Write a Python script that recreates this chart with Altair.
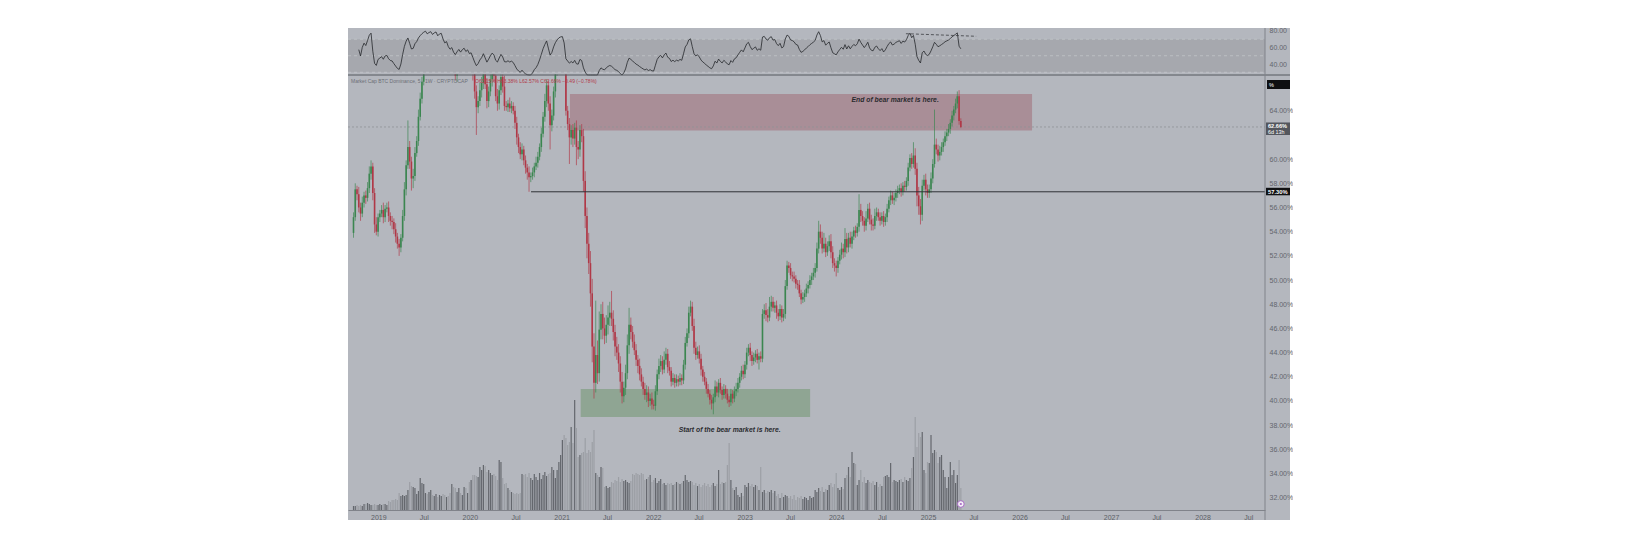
import altair as alt
import pandas as pd

FONT = "Liberation Sans"

# ---------------- data (weekly BTC dominance, %) ----------------
first_open = 53.9
c2018 = [55.2, 57.5, 57.1, 56.0, 55.5, 56.4, 57.0, 56.8, 57.6, 58.8, 59.4, 57.2, 54.6, 54.0, 55.2]
c2019 = [55.5, 55.8, 55.2, 55.9, 56.0, 55.3, 54.9, 54.8, 54.2, 53.6, 53.0, 52.7,
         53.5, 55.3, 57.5, 59.5, 61.0, 59.8, 58.4, 58.6, 60.5, 61.5, 63.5, 65.0, 66.4,
         67.6, 68.5, 67.9, 68.9, 69.6, 69.0, 70.1, 70.8, 70.0, 71.2, 71.6, 70.4, 69.5, 70.1,
         68.9, 68.2, 68.8, 67.6, 66.9, 67.8, 68.6, 67.9, 68.7, 69.2, 68.4, 68.9, 68.0]
c2020 = [68.2, 67.0, 65.6, 64.3, 64.8, 65.7, 66.3, 67.4, 66.2, 64.8,
         65.6, 66.6, 67.4, 66.9, 65.2, 64.6, 65.7, 66.8, 66.0, 64.4,
         64.3, 64.6, 64.2, 64.4, 64.0, 63.0, 61.8, 61.0, 60.4, 60.8,
         59.9, 59.3, 58.9, 58.5, 58.6, 58.9, 59.4, 59.7, 60.2, 61.0,
         62.1, 63.5, 64.8, 66.1, 64.6, 62.8, 63.6, 65.6, 67.5, 69.0,
         70.2, 70.8]
c2021 = [71.0, 69.5, 64.0, 62.9, 61.8, 62.4, 61.7, 62.6, 61.0, 60.8,
         62.4, 61.9, 58.2, 55.3, 53.0, 51.4, 48.9, 44.5, 41.5, 43.8,
         42.3, 45.9, 47.2, 46.0, 45.4, 46.3, 46.9, 47.3, 46.8, 45.7,
         44.5, 44.0, 43.1, 41.6, 40.4, 41.1, 42.3, 44.6, 46.3, 45.7,
         44.9, 44.2, 43.4, 42.9, 42.2, 41.6, 41.0, 40.5, 40.7, 40.0,
         40.2, 39.7]
c2022 = [39.6, 40.8, 42.2, 42.9, 43.3, 42.6, 43.4, 43.9, 42.8, 42.5,
         41.6, 41.9, 41.5, 41.8, 41.6, 41.9, 41.7, 43.0, 44.8, 45.6,
         47.3, 47.8, 46.2, 44.4, 43.8, 44.1, 43.5, 42.6, 42.0, 41.6,
         41.0, 40.6, 40.1, 39.8, 40.3, 41.2, 40.7, 41.5, 40.9, 40.5,
         41.0, 40.6, 40.1, 39.9, 40.6, 40.2, 40.8, 41.0, 41.5, 42.0,
         42.5, 42.2]
c2023 = [43.0, 44.0, 44.4, 43.8, 43.3, 43.6, 43.9, 43.4, 43.7, 43.5,
         47.2, 47.5, 47.1, 46.9, 47.8, 48.2, 47.7, 47.9, 47.3, 47.0,
         47.6, 46.9, 47.2, 49.5, 51.2, 51.0, 50.4, 50.3, 50.1, 49.7,
         49.6, 48.9, 48.4, 48.6, 48.9, 49.3, 49.6, 50.0, 50.3, 50.6,
         51.0, 52.6, 54.0, 53.5, 52.6, 53.0, 52.3, 52.8, 53.2, 52.3,
         51.4, 51.2]
c2024 = [51.0, 51.6, 52.1, 52.6, 52.3, 53.4, 52.7, 53.5, 53.0, 53.6,
         54.1, 53.9, 54.4, 55.8, 55.3, 54.9, 54.5, 55.1, 55.9, 55.0,
         54.6, 54.5, 55.3, 55.6, 55.2, 54.9, 55.3, 54.8, 55.2, 55.9,
         56.6, 57.0, 56.6, 56.8, 57.2, 57.4, 57.6, 57.3, 57.8, 57.7,
         58.2, 59.3, 60.1, 59.6, 60.3, 59.2, 57.0, 56.1, 55.4, 57.8,
         58.3, 57.5, 57.2]
c2025 = [57.5, 58.4, 59.6, 61.2, 60.8, 60.3, 60.6, 61.0, 61.4, 61.9,
         62.2, 62.5, 63.0, 63.6, 64.1, 64.6, 65.2, 63.15, 62.66]

# upper / lower wick lengths (percentage points)
wu2018 = [0.4, 0.5, 0.3, 0.6, 0.4, 0.5, 0.3, 0.4, 0.5, 0.6, 0.5, 0.3, 0.4, 0.6, 0.3]
wd2018 = [0.4, 0.3, 0.5, 0.4, 0.6, 0.3, 0.4, 0.5, 0.3, 0.4, 0.5, 0.6, 0.7, 0.3, 0.4]
wu2019 = [0.3, 0.4, 0.6, 0.3, 0.4, 0.5, 0.3, 0.4, 0.3, 0.5, 0.3, 0.4,
          0.3, 0.5, 0.6, 0.4, 2.2, 0.5, 0.4, 0.6, 0.5, 0.4, 0.6, 0.5, 0.4, 0.5,
          0.5, 0.6, 0.4, 0.5, 0.6, 0.4, 0.5, 0.6, 0.4, 0.5, 0.6, 0.4, 0.5, 0.4, 0.6, 0.5,
          0.4, 0.5, 0.6, 0.4, 0.5, 0.4, 0.6, 0.5, 0.4, 0.5]
wd2019 = [0.4, 0.3, 0.5, 0.4, 0.3, 0.5, 0.4, 0.6, 0.4, 0.5, 0.4, 0.7,
          0.4, 0.3, 0.4, 0.5, 0.3, 0.6, 1.0, 0.8, 0.4, 0.3, 0.4, 0.3, 0.4, 0.3,
          0.5, 0.4, 0.6, 0.5, 0.4, 0.5, 0.6, 0.4, 0.5, 0.6, 0.4, 0.7, 0.5, 0.6, 0.4, 0.5,
          0.6, 0.4, 0.5, 0.4, 0.6, 0.5, 0.4, 0.5, 0.6, 0.5]
wu2020 = [0.5, 0.4, 0.6, 0.5, 0.4, 0.6, 0.5, 0.4, 0.6, 0.5,
          0.4, 0.5, 0.6, 0.4, 0.5, 0.6, 0.4, 0.5, 0.6, 0.9,
          0.4, 0.3, 0.5, 0.4, 0.3, 0.4, 0.5, 0.3, 0.4, 0.5,
          0.3, 0.4, 0.3, 0.5, 0.3, 0.4, 0.3, 0.5, 0.4, 0.3,
          0.5, 0.4, 0.6, 0.5, 0.4, 0.6, 0.5, 0.4, 0.6, 0.5,
          0.4, 0.6]
wd2020 = [0.4, 0.5, 0.6, 2.3, 0.5, 0.4, 0.6, 0.5, 0.4, 0.6,
          0.5, 0.4, 0.6, 0.5, 0.4, 0.6, 0.5, 0.4, 0.5, 0.4,
          0.3, 0.4, 0.3, 0.4, 0.3, 0.5, 0.6, 0.5, 0.4, 0.5,
          0.4, 0.5, 0.6, 1.2, 0.4, 0.3, 0.4, 0.3, 0.4, 0.3,
          0.4, 0.3, 0.4, 0.5, 0.6, 2.0, 0.5, 0.4, 0.5, 0.6,
          0.5, 0.6]
wu2021 = [0.6, 0.5, 0.5, 0.4, 0.5, 0.4, 0.5, 0.4, 0.6, 0.5,
          0.4, 0.5, 0.6, 0.8, 0.7, 0.9, 1.0, 1.2, 1.1, 4.5,
          1.2, 1.5, 0.8, 1.0, 0.9, 0.8, 1.0, 0.9, 1.8, 0.7,
          0.6, 0.8, 0.7, 0.6, 0.8, 0.5, 0.7, 0.9, 1.4, 0.6,
          0.5, 0.6, 0.5, 0.4, 0.6, 0.5, 0.4, 0.5, 0.6, 0.5,
          0.4, 0.5]
wd2021 = [0.5, 0.6, 0.4, 0.5, 2.2, 0.6, 0.7, 0.5, 1.5, 0.8,
          0.6, 0.5, 0.9, 1.0, 1.2, 0.9, 1.1, 1.3, 1.3, 0.8,
          0.9, 0.7, 0.8, 0.9, 0.7, 0.6, 0.8, 0.7, 0.6, 0.7,
          0.8, 0.6, 0.7, 0.9, 0.6, 0.5, 0.6, 0.5, 0.7, 0.6,
          0.5, 0.4, 0.5, 0.6, 0.5, 0.4, 0.5, 0.4, 0.6, 0.5,
          0.4, 0.4]
wu2022 = [0.4, 0.5, 0.4, 0.6, 0.5, 0.4, 0.7, 0.5, 0.4, 0.5,
          0.3, 0.4, 0.3, 0.4, 0.3, 0.4, 0.3, 0.4, 0.5, 0.4,
          0.5, 0.5, 0.4, 0.6, 0.5, 0.4, 0.5, 0.4, 0.3, 0.4,
          0.3, 0.4, 0.3, 0.4, 0.3, 0.5, 0.4, 0.3, 0.4, 0.3,
          0.4, 0.3, 0.4, 0.3, 0.4, 0.3, 0.4, 0.5, 0.4, 0.3,
          0.4, 0.5]
wd2022 = [0.3, 0.4, 0.3, 0.4, 0.5, 0.4, 0.3, 0.4, 0.5, 0.4,
          0.4, 0.3, 0.4, 0.3, 0.4, 0.3, 0.4, 0.3, 0.4, 0.3,
          0.4, 0.3, 0.4, 0.5, 0.4, 0.3, 0.4, 0.5, 0.4, 0.3,
          0.4, 0.3, 0.4, 0.5, 0.9, 0.4, 0.3, 0.4, 0.3, 0.4,
          0.3, 0.4, 0.3, 0.4, 0.3, 0.4, 0.3, 0.4, 0.3, 0.4,
          0.3, 0.4]
wu2023 = [0.3, 0.4, 0.3, 0.4, 0.3, 0.4, 0.3, 0.4, 0.3, 0.4,
          0.4, 0.5, 0.6, 0.5, 0.8, 0.5, 0.4, 0.3, 0.4, 0.3,
          0.4, 0.3, 0.4, 0.5, 0.4, 0.3, 0.4, 0.3, 0.4, 0.3,
          0.3, 0.4, 0.3, 0.4, 0.3, 0.4, 0.3, 0.4, 0.3, 0.4,
          0.4, 0.5, 0.9, 0.6, 0.5, 0.9, 0.5, 0.4, 0.5, 0.6,
          0.5, 0.4]
wd2023 = [0.3, 0.4, 0.3, 0.5, 0.4, 0.3, 0.4, 0.3, 0.8, 0.3,
          0.3, 0.4, 0.5, 0.4, 0.3, 0.4, 0.3, 0.4, 0.5, 0.4,
          0.3, 0.4, 0.3, 0.4, 0.3, 0.4, 0.3, 0.4, 0.3, 0.4,
          0.4, 0.3, 0.4, 0.3, 0.4, 0.3, 0.4, 0.3, 0.4, 0.3,
          0.4, 0.3, 0.4, 0.5, 0.4, 0.3, 0.4, 0.3, 0.4, 0.5,
          0.4, 0.5]
wu2024 = [0.4, 0.3, 0.4, 0.5, 0.4, 0.9, 0.5, 0.4, 0.5, 0.4,
          0.3, 0.4, 0.3, 1.3, 0.5, 0.4, 0.3, 0.6, 0.4, 0.5,
          0.4, 0.5, 0.6, 0.4, 0.3, 0.4, 0.3, 0.4, 0.3, 0.4,
          0.3, 0.4, 0.3, 0.4, 0.3, 0.4, 0.3, 0.4, 0.3, 0.4,
          0.3, 0.4, 0.3, 0.4, 1.1, 0.6, 0.5, 0.7, 0.6, 0.5,
          0.4, 0.5, 0.4]
wd2024 = [0.7, 0.4, 0.3, 0.4, 0.5, 0.4, 0.5, 0.4, 0.3, 0.4,
          0.3, 0.4, 0.3, 0.4, 0.5, 0.4, 0.5, 0.4, 0.3, 0.4,
          0.5, 0.4, 0.3, 0.4, 0.3, 0.4, 0.3, 0.4, 0.3, 0.4,
          0.3, 0.4, 0.3, 0.4, 0.3, 0.4, 0.3, 0.4, 0.3, 0.4,
          0.3, 0.4, 0.3, 0.4, 0.3, 0.5, 0.9, 0.7, 0.8, 0.5,
          0.4, 0.5, 0.4]
wu2025 = [0.4, 0.5, 0.4, 2.9, 0.5, 0.4, 0.5, 0.4, 0.3, 0.4, 0.3, 0.4, 0.3, 0.4, 0.3, 0.4, 0.4, 0.5, 0.23]
wd2025 = [0.4, 0.3, 0.4, 0.3, 0.4, 0.5, 0.4, 0.3, 0.4, 0.3, 0.4, 0.3, 0.4, 0.3, 0.4, 0.3, 0.4, 0.3, 0.09]

# volume (relative units)
v2018 = [4, 4, 5, 4, 5, 4, 6, 6, 7, 6, 5, 5, 6, 5, 5]
v2019 = [6, 5, 6, 6, 5, 9, 8, 10, 10, 11, 10, 17, 14, 15, 14, 15, 20, 28, 24, 23, 22, 16,
         19, 32, 27, 26, 17, 16, 18, 20, 15, 14, 16, 13, 15, 14, 16, 15, 13, 14, 17,
         26, 23, 22, 18, 22, 17, 15, 23, 22, 17, 28]
v2020 = [30, 35, 35, 34, 33, 43, 40, 45, 44, 38, 40, 37, 35, 36, 34, 30, 50, 48, 32, 26,
         27, 22, 20, 18, 17, 16, 17, 16, 17, 36, 35, 36, 33, 37, 32, 30, 36,
         33, 30, 37, 31, 35, 38, 34, 36, 37, 43, 40, 32, 40, 48, 55]
v2021 = [70, 75, 72, 65, 68, 83, 67, 110, 82, 53, 55, 57, 58, 72, 57, 60, 58, 68, 80,
         37, 35, 33, 43, 42, 23, 24, 22, 23, 28, 27, 30, 29, 33, 28, 31, 29, 30, 28, 27, 29,
         36, 35, 37, 36, 35, 37, 36, 30, 31, 33, 35, 28]
v2022 = [30, 32, 27, 29, 31, 26, 27, 25, 27, 26, 27, 25, 26, 28, 27, 26, 27, 29, 35,
         30, 28, 29, 28, 25, 27, 24, 26, 23, 25, 27, 24, 26, 23, 25, 27, 24, 26,
         40, 26, 28, 27, 28, 45, 67, 30, 22, 20, 23, 15, 13, 17, 14]
v2023 = [25, 23, 27, 24, 26, 23, 25, 24, 20, 43, 18, 20, 17, 19, 18, 20, 17, 19,
         14, 16, 12, 17, 13, 15, 14, 12, 14, 11, 15, 10, 13, 12, 14, 11, 13, 12, 10, 14, 12, 13,
         20, 18, 22, 19, 23, 18, 21, 20, 25, 27, 23, 26]
v2024 = [37, 22, 20, 23, 21, 32, 35, 43, 33, 58, 47, 46, 25, 30, 40, 28, 33, 27,
         30, 28, 27, 29, 25, 28, 23, 26, 24, 33, 34, 35, 33, 47, 28, 30, 29, 28, 30,
         31, 28, 33, 30, 29, 32, 42, 53, 93, 63, 77, 73, 78, 40, 37, 48]
v2025 = [47, 75, 57, 60, 58, 47, 53, 55, 40, 33, 22, 33, 48, 35, 40, 27, 35, 50, 22]

closes = c2018 + c2019 + c2020 + c2021 + c2022 + c2023 + c2024 + c2025
wick_up = wu2018 + wu2019 + wu2020 + wu2021 + wu2022 + wu2023 + wu2024 + wu2025
wick_dn = wd2018 + wd2019 + wd2020 + wd2021 + wd2022 + wd2023 + wd2024 + wd2025
volume = v2018 + v2019 + v2020 + v2021 + v2022 + v2023 + v2024 + v2025
assert len(closes) == len(wick_up) == len(wick_dn) == len(volume), (len(closes), len(wick_up), len(wick_dn), len(volume))

# annotations
zone_x1 = ["2021-02-03", "2021-03-18"]
zone_x2 = ["2026-02-20", "2023-09-19"]
zone_top = [65.39, 41.0]
zone_bot = [62.36, 38.67]
zone_fill = ["#a98e97", "#8fa593"]
note_text = ["End of bear market is here.", "Start of the bear market is here."]
note_date = ["2024-08-23", "2022-11-02"]
note_price = [64.9, 37.6]
support_level = 57.30
support_start = "2020-09-01"
last_price = 62.66
div_dates = ["2024-10-05", "2025-07-12"]
div_rsi = [76.7, 73.6]
price_ticks = [32, 34, 36, 38, 40, 42, 44, 46, 48, 50, 52, 54, 56, 58, 60, 64]
rsi_ticks = [40, 60, 80]

# ---------------- derived table ----------------
GREEN, RED = "#3b8650", "#b03847"
dates = pd.date_range("2018-09-24", periods=len(closes), freq="7D")
opens = [first_open] + closes[:-1]
df = pd.DataFrame({
    "date": dates,
    "open": opens,
    "close": closes,
    "high": [max(o, c) + u for o, c, u in zip(opens, closes, wick_up)],
    "low": [min(o, c) - d for o, c, d in zip(opens, closes, wick_dn)],
    "vol": volume,
})
df["col"] = [GREEN if c >= o else RED for o, c in zip(opens, closes)]
df["vcol"] = ["#64676d" if c >= o else "#9c9fa5" for o, c in zip(opens, closes)]
s = pd.Series(closes)
dlt = s.diff()
ag = dlt.clip(lower=0).ewm(alpha=1 / 14, min_periods=3).mean()
al = (-dlt.clip(upper=0)).ewm(alpha=1 / 14, min_periods=3).mean()
df["rsi"] = 100 - 100 / (1 + ag / al)

# ---------------- scales / axes ----------------
W, H = 917, 482
FW, FH = 942, 492
xs = alt.Scale(domain=[alt.DateTime(year=2018, month=9, date=22), alt.DateTime(year=2028, month=8, date=17)])
xvals = []
for yr in range(2019, 2029):
    xvals += [alt.DateTime(year=yr, month=1, date=1), alt.DateTime(year=yr, month=7, date=1)]
xaxis = alt.Axis(values=xvals, labelExpr="month(datum.value) == 0 ? timeFormat(datum.value, '%Y') : 'Jul'",
                 grid=False, ticks=False, domainColor="#80838a", domainWidth=1, labelColor="#5c5f66",
                 labelFontSize=7, labelPadding=3, labelFont=FONT, labelOverlap=False, labelFlush=False,
                 title=None, zindex=1)


def X(field="date"):
    return alt.X(f"{field}:T", scale=xs, axis=xaxis, title=None)


ps = alt.Scale(domain=[31, 67], range=[481.8, 46.5], clamp=True)
rs = alt.Scale(domain=[26.7, 82.4], range=[47, 1], clamp=True)
vs = alt.Scale(domain=[0, 110], range=[482, 372])
price_axis = alt.Axis(orient="right", values=price_ticks, labelExpr="format(datum.value, '.2f') + '%'",
                      grid=False, ticks=False, domain=False, labelColor="#63666d", labelFontSize=7,
                      labelPadding=4, labelFont=FONT, labelOverlap=False, title=None, zindex=1)
rsi_axis = alt.Axis(orient="right", values=rsi_ticks, labelExpr="format(datum.value, '.2f')",
                    grid=False, ticks=False, domain=False, labelColor="#63666d", labelFontSize=7,
                    labelPadding=4, labelFont=FONT, labelOverlap=False, title=None, zindex=1)

one = pd.DataFrame({"k": [0]})

bg = alt.Chart(one).mark_rect(color="#b4b7be").encode(
    x=alt.value(0), x2=alt.value(FW), y=alt.value(0), y2=alt.value(FH))

band = alt.Chart(pd.DataFrame({"lo": [30], "hi": [70]})).mark_rect(color="#a6a8ae").encode(
    x=alt.value(0), x2=alt.value(W), y=alt.Y("hi:Q", scale=rs, axis=None), y2="lo:Q")
rsi_dash = alt.Chart(pd.DataFrame({"lv": [30, 50, 70]})).mark_rule(
    color="#c6c8cc", strokeWidth=0.7, strokeDash=[3, 3]).encode(
    x=alt.value(0), x2=alt.value(W), y=alt.Y("lv:Q", scale=rs, axis=None))
rsi_line = alt.Chart(df).mark_line(color="#25272b", strokeWidth=0.8).encode(
    x=X(), y=alt.Y("rsi:Q", scale=rs, axis=rsi_axis))
div_line = alt.Chart(pd.DataFrame({"date": pd.to_datetime(div_dates), "r": div_rsi})).mark_line(
    color="#3a3c40", strokeWidth=0.8, strokeDash=[3, 2]).encode(
    x=X(), y=alt.Y("r:Q", scale=rs, axis=None))

zones = alt.Chart(pd.DataFrame({"a": pd.to_datetime(zone_x1), "b": pd.to_datetime(zone_x2),
                                "t": zone_top, "u": zone_bot, "f": zone_fill})).mark_rect().encode(
    x=X("a"), x2="b:T", y=alt.Y("t:Q", scale=ps, axis=None), y2="u:Q",
    color=alt.Color("f:N", scale=None))

vol = alt.Chart(df).mark_bar(size=1.2).encode(
    x=X(), y=alt.Y("vol:Q", scale=vs, axis=None), color=alt.Color("vcol:N", scale=None))

wicks = alt.Chart(df).mark_rule(strokeWidth=0.8, opacity=0.85).encode(
    x=X(), y=alt.Y("low:Q", scale=ps, axis=None), y2="high:Q", color=alt.Color("col:N", scale=None))
bodies = alt.Chart(df).mark_bar(size=1.6).encode(
    x=X(), y=alt.Y("open:Q", scale=ps, axis=price_axis), y2="close:Q", color=alt.Color("col:N", scale=None))

support = alt.Chart(pd.DataFrame({"a": pd.to_datetime([support_start]), "p": [support_level]})).mark_rule(
    color="#2f3135", strokeWidth=1).encode(x=X("a"), x2=alt.value(W), y=alt.Y("p:Q", scale=ps, axis=None))
cur = alt.Chart(pd.DataFrame({"p": [last_price]})).mark_rule(
    color="#8e9197", strokeWidth=0.8, strokeDash=[2, 2]).encode(
    x=alt.value(0), x2=alt.value(W), y=alt.Y("p:Q", scale=ps, axis=None))

notes = alt.Chart(pd.DataFrame({"date": pd.to_datetime(note_date), "p": note_price, "t": note_text})).mark_text(
    font=FONT, fontSize=6.8, fontStyle="italic", fontWeight="bold", color="#2a2a2e").encode(
    x=X(), y=alt.Y("p:Q", scale=ps, axis=None), text="t:N")

# price-scale label boxes
cur_box = alt.Chart(pd.DataFrame({"p": [last_price]})).mark_rect(
    color="#54575e", yOffset=-4.5, y2Offset=8).encode(
    x=alt.value(W + 1), x2=alt.value(FW), y=alt.Y("p:Q", scale=ps, axis=None), y2="p:Q")
cur_txt1 = alt.Chart(pd.DataFrame({"p": [last_price], "t": ["62.66%"]})).mark_text(
    font=FONT, fontSize=5.6, fontWeight="bold", color="white", align="left", baseline="middle", dy=-0.5).encode(
    x=alt.value(W + 3), y=alt.Y("p:Q", scale=ps, axis=None), text="t:N")
cur_txt2 = alt.Chart(pd.DataFrame({"p": [last_price], "t": ["6d 13h"]})).mark_text(
    font=FONT, fontSize=5.4, color="white", align="left", baseline="middle", dy=5).encode(
    x=alt.value(W + 3), y=alt.Y("p:Q", scale=ps, axis=None), text="t:N")
sup_box = alt.Chart(pd.DataFrame({"p": [support_level]})).mark_rect(
    color="#111214", yOffset=-4, y2Offset=3.5).encode(
    x=alt.value(W + 1), x2=alt.value(FW), y=alt.Y("p:Q", scale=ps, axis=None), y2="p:Q")
sup_txt = alt.Chart(pd.DataFrame({"p": [support_level], "t": ["57.30%"]})).mark_text(
    font=FONT, fontSize=5.8, fontWeight="bold", color="white", align="left", baseline="middle").encode(
    x=alt.value(W + 3), y=alt.Y("p:Q", scale=ps, axis=None), text="t:N")
pct_box = alt.Chart(one).mark_rect(color="#0e0f11").encode(
    x=alt.value(W + 2), x2=alt.value(FW), y=alt.value(52), y2=alt.value(61))
pct_txt = alt.Chart(pd.DataFrame({"t": ["%"]})).mark_text(
    font=FONT, fontSize=5.5, color="white", align="left", baseline="middle").encode(
    x=alt.value(W + 4), y=alt.value(56.5), text="t:N")

# pane separators
sep_h = alt.Chart(one).mark_rule(color="#55585e", strokeWidth=1).encode(
    x=alt.value(0), x2=alt.value(FW), y=alt.value(47))
sep_v = alt.Chart(one).mark_rule(color="#80838a", strokeWidth=1).encode(
    x=alt.value(W), y=alt.value(0), y2=alt.value(FH))

legend = alt.Chart(pd.DataFrame({"t": ["Market Cap BTC Dominance, 5 · 1W · CRYPTOCAP",
                                       "O63.15%  H63.38%  L62.57%  C62.66%  −0.49 (−0.78%)"],
                                 "c": ["#6c6f76", "#b23b49"], "xp": [3, 127]})).mark_text(
    font=FONT, fontSize=5, align="left", baseline="middle").encode(
    x=alt.X("xp:Q", scale=None), y=alt.value(53), text="t:N", color=alt.Color("c:N", scale=None))

icon = alt.Chart(pd.DataFrame({"date": pd.to_datetime(["2025-05-12"])})).mark_point(
    shape="circle", filled=True, fill="#f4eef7", stroke="#a76cc4", strokeWidth=1, size=45, opacity=1).encode(
    x=X(), y=alt.value(476))
icon_dot = alt.Chart(pd.DataFrame({"date": pd.to_datetime(["2025-05-12"])})).mark_point(
    shape="circle", filled=True, color="#a76cc4", size=5, opacity=1).encode(
    x=X(), y=alt.value(476))

chart = alt.layer(
    bg, band, rsi_dash, rsi_line, div_line, zones, vol, cur, wicks, bodies, support,
    notes, sep_h, sep_v, cur_box, cur_txt1, cur_txt2, sup_box, sup_txt, pct_box, pct_txt, legend, icon, icon_dot
).resolve_scale(y="independent").properties(
    width=W, height=H, background="white",
    padding={"left": 339, "top": 18, "right": 0, "bottom": 0}
).configure_view(strokeWidth=0)

chart.save("out.html", embed_options={"renderer": "svg", "actions": False})
